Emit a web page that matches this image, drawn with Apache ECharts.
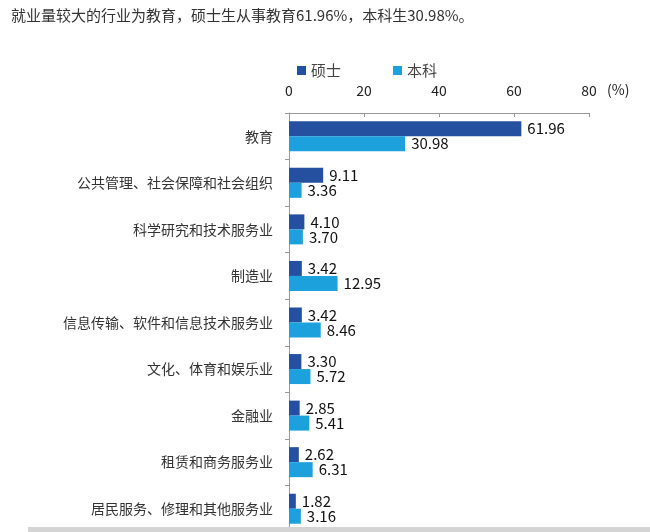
<!DOCTYPE html>
<html><head><meta charset="utf-8">
<script src="https://cdn.jsdelivr.net/npm/echarts@6/dist/echarts.min.js"></script>
<style>html,body{margin:0;padding:0;background:#fff}#c{width:650px;height:532px}</style>
</head><body><div id="c"></div>
<script>
const categories = ['教育','公共管理、社会保障和社会组织','科学研究和技术服务业','制造业','信息传输、软件和信息技术服务业','文化、体育和娱乐业','金融业','租赁和商务服务业','居民服务、修理和其他服务业'];
const master = [61.96, 9.11, 4.10, 3.42, 3.42, 3.30, 2.85, 2.62, 1.82];
const bachelor = [30.98, 3.36, 3.70, 12.95, 8.46, 5.72, 5.41, 6.31, 3.16];
const xTicks = [0, 20, 40, 60, 80];
const FONT = '"Noto Sans CJK SC", "Noto Sans", sans-serif';
const chart = echarts.init(document.getElementById('c'), null, {renderer: 'canvas'});
const lbl = {show: true, position: 'right', distance: 6, fontSize: 15, color: '#111', fontFamily: FONT, formatter: p => p.value.toFixed(2)};
chart.setOption({
  animation: false,
  title: {text: '就业量较大的行业为教育，硕士生从事教育61.96%，本科生30.98%。', left: 6, top: 3,
    textStyle: {fontSize: 15, fontWeight: 'normal', color: '#333', fontFamily: FONT}},
  legend: {top: 58, left: 292, itemWidth: 9, itemHeight: 9, itemGap: 52, icon: 'rect',
    textStyle: {fontSize: 15, color: '#444', fontFamily: FONT}, data: ['硕士', '本科']},
  grid: {left: 289, top: 113, width: 300, height: 421, containLabel: false},
  xAxis: {type: 'value', position: 'top', min: xTicks[0], max: xTicks[xTicks.length-1], interval: 20,
    axisLine: {show: true, lineStyle: {color: '#999'}},
    axisTick: {show: true, inside: true, length: 4, lineStyle: {color: '#999'}},
    axisLabel: {fontSize: 14, color: '#222', margin: 15, fontFamily: FONT},
    splitLine: {show: false}},
  yAxis: {type: 'category', inverse: true, data: categories,
    axisLine: {show: true, lineStyle: {color: '#999'}},
    axisTick: {show: true, length: 4, lineStyle: {color: '#999'}},
    axisLabel: {fontSize: 14, color: '#333', margin: 16, fontFamily: FONT}},
  series: [
    {name: '硕士', type: 'bar', data: master, barWidth: 15, barGap: '0%', itemStyle: {color: '#24509F'}, label: lbl},
    {name: '本科', type: 'bar', data: bachelor, barWidth: 15, barGap: '0%', itemStyle: {color: '#1DA1DD'}, label: lbl}
  ],
  graphic: [
    {type: 'text', left: 607, top: 83, style: {text: '(%)', fontSize: 14, fill: '#222', fontFamily: FONT}},
    {type: 'rect', shape: {x: 28, y: 527, width: 622, height: 6}, style: {fill: '#d4d4d4'}, z: 100}
  ]
});
</script></body></html>
